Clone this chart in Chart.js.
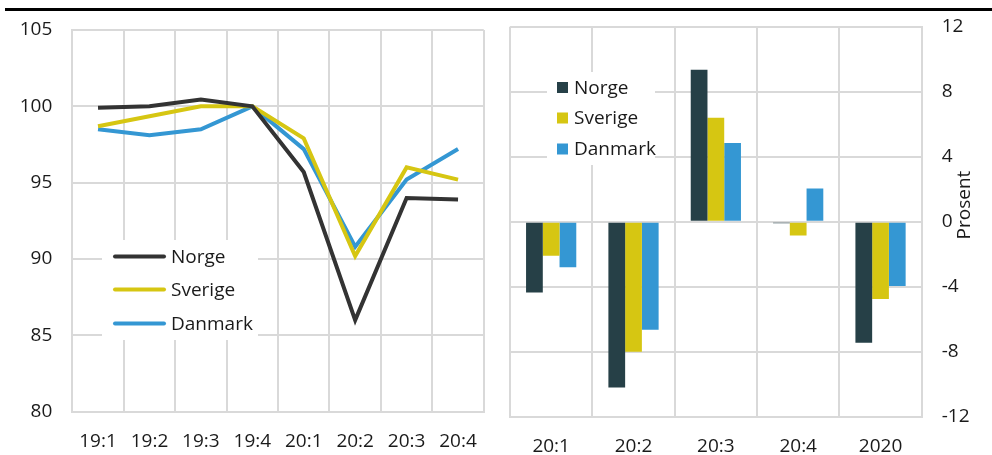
<!DOCTYPE html>
<html><head><meta charset="utf-8">
<script src="https://cdn.jsdelivr.net/npm/chart.js@4/dist/chart.umd.min.js"></script>
<style>
html,body{margin:0;padding:0;background:#fff;width:992px;height:455px;overflow:hidden}
#topline{position:absolute;left:5px;top:8px;width:987px;height:3px;background:#000}
#c1wrap{position:absolute;left:0;top:0;width:495px;height:455px}
#c2wrap{position:absolute;left:495px;top:0;width:497px;height:455px}
</style></head><body>
<div id="topline"></div>
<div id="c1wrap"><canvas id="c1"></canvas></div>
<div id="c2wrap"><canvas id="c2"></canvas></div>
<script>
// ---- data ----
const quarters = ['19:1','19:2','19:3','19:4','20:1','20:2','20:3','20:4'];
const norgeIndex   = [99.9, 100.0, 100.45, 100.0, 95.7, 86.0, 94.0, 93.9];
const sverigeIndex = [98.7, 99.35, 100.0, 100.0, 97.9, 90.2, 96.0, 95.2];
const danmarkIndex = [98.5, 98.1, 98.5, 100.0, 97.2, 90.8, 95.2, 97.2];

const periods = ['20:1','20:2','20:3','20:4','2020'];
const norgeGrowth   = [-4.35, -10.2, 9.35, -0.1, -7.45];
const sverigeGrowth = [-2.1, -8.0, 6.4, -0.85, -4.75];
const danmarkGrowth = [-2.8, -6.65, 4.85, 2.05, -3.95];

const seriesNames = ['Norge','Sverige','Danmark'];
const indexAxis = {min: 80, max: 105, step: 5};
const growthAxis = {min: -12, max: 12, step: 4};
const growthAxisTitle = 'Prosent';

// ---- styles ----
const FONT = '"Open Sans", "Noto Sans", sans-serif';
const TXT = '#1a1a1a';
const GRID = '#d9d9d9';
const lineColors = ['#333333', '#d6c612', '#3497d3'];
const barColors  = ['#264047', '#d6c612', '#3497d3'];

Chart.defaults.font.family = FONT;
Chart.defaults.color = TXT;
Chart.defaults.animation = false;

const legendBox = {
  id: 'legendBox',
  afterDatasetsDraw(chart, args, o) {
    const ctx = chart.ctx;
    ctx.save();
    ctx.fillStyle = '#fff';
    ctx.fillRect(o.box[0], o.box[1], o.box[2], o.box[3]);
    chart.data.datasets.forEach((ds, i) => {
      const y = o.ys[i];
      if (o.kind === 'line') {
        ctx.strokeStyle = ds.borderColor; ctx.lineWidth = 4; ctx.lineCap = 'round';
        ctx.beginPath(); ctx.moveTo(o.x0, y); ctx.lineTo(o.x1, y); ctx.stroke();
      } else {
        ctx.fillStyle = ds.backgroundColor;
        ctx.fillRect(o.x0, y - 5.5, 11, 11);
      }
      ctx.fillStyle = TXT;
      ctx.font = '19px ' + FONT;
      ctx.textBaseline = 'middle';
      ctx.textAlign = 'left';
      ctx.fillText(ds.label, o.tx, y + 1);
    });
    ctx.restore();
  }
};

const sideTitle = {
  id: 'sideTitle',
  afterDraw(chart, args, o) {
    if (!o.text) return;
    const ctx = chart.ctx;
    ctx.save();
    ctx.translate(o.x, o.y);
    ctx.rotate(-Math.PI / 2);
    ctx.fillStyle = TXT;
    ctx.font = '19px ' + FONT;
    ctx.textAlign = 'center';
    ctx.textBaseline = 'middle';
    ctx.fillText(o.text, 0, 0);
    ctx.restore();
  }
};

const gridCfg = {color: GRID, lineWidth: 2, drawTicks: false};
const borderCfg = {color: GRID, width: 2};
const tickFont = {size: 19, family: FONT};
const fixY = (w) => function (s) { s.width = w; s.paddingTop = 0; s.paddingBottom = 0; };

new Chart(document.getElementById('c1'), {
  type: 'line',
  data: {
    labels: quarters,
    datasets: [norgeIndex, sverigeIndex, danmarkIndex].map((d, i) => ({
      label: seriesNames[i], data: d, borderColor: lineColors[i], backgroundColor: lineColors[i],
      borderWidth: 4, pointRadius: 0, tension: 0, fill: false
    }))
  },
  options: {
    responsive: true, maintainAspectRatio: false,
    layout: {padding: {top: 30, left: 0, right: 2.7, bottom: 0}},
    plugins: {
      legend: {display: false}, tooltip: {enabled: false},
      legendBox: {kind: 'line', box: [102, 240, 156, 100], x0: 115, x1: 164, tx: 171, ys: [256.5, 289.5, 323.5]},
      sideTitle: {text: ''}
    },
    scales: {
      x: {offset: true, grid: {...gridCfg, offset: true}, border: borderCfg,
          ticks: {font: tickFont, padding: 18, maxRotation: 0, autoSkip: false, color: TXT},
          afterFit(s) { s.height = 43.3; }},
      y: {min: indexAxis.min, max: indexAxis.max, grid: gridCfg, border: borderCfg,
          ticks: {stepSize: indexAxis.step, font: tickFont, padding: 20, color: TXT},
          afterFit: fixY(72.3)}
    }
  },
  plugins: [legendBox, sideTitle]
});

new Chart(document.getElementById('c2'), {
  type: 'bar',
  data: {
    labels: periods,
    datasets: [norgeGrowth, sverigeGrowth, danmarkGrowth].map((d, i) => ({
      label: seriesNames[i], data: d, backgroundColor: barColors[i], borderWidth: 0,
      categoryPercentage: 0.61, barPercentage: 1.0
    }))
  },
  options: {
    responsive: true, maintainAspectRatio: false,
    layout: {padding: {top: 26.7, left: 15, right: 0, bottom: 0}},
    plugins: {
      legend: {display: false}, tooltip: {enabled: false},
      legendBox: {kind: 'box', box: [52, 72, 108, 93], x0: 62, tx: 79, ys: [87.5, 118, 149]},
      sideTitle: {text: growthAxisTitle, x: 470, y: 205}
    },
    scales: {
      x: {offset: true, grid: {...gridCfg, offset: true}, border: borderCfg,
          ticks: {font: tickFont, padding: 18, maxRotation: 0, autoSkip: false, color: TXT},
          afterFit(s) { s.height = 38.3; }},
      y: {position: 'right', min: growthAxis.min, max: growthAxis.max, grid: gridCfg, border: borderCfg,
          ticks: {stepSize: growthAxis.step, font: tickFont, padding: 20, color: TXT},
          afterFit: fixY(70.3)}
    }
  },
  plugins: [legendBox, sideTitle]
});
</script>
</body></html>
